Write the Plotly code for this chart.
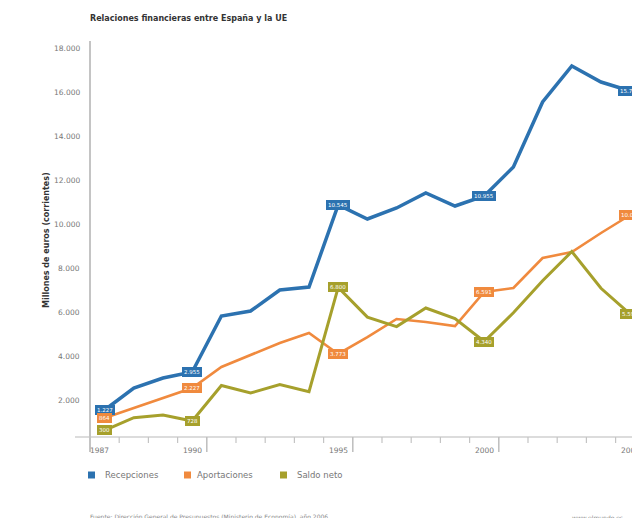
import plotly.graph_objects as go

years = [1987, 1988, 1989, 1990, 1991, 1992, 1993, 1994, 1995, 1996,
         1997, 1998, 1999, 2000, 2001, 2002, 2003, 2004, 2005]
recepciones = [1227, 2227, 2682, 2955, 5500, 5727, 6682, 6818, 10545, 9909,
               10409, 11091, 10500, 10955, 12273, 15227, 16864, 16136, 15727]
aportaciones = [864, 1318, 1773, 2227, 3182, 3727, 4273, 4727, 3773, 4545,
                5364, 5227, 5045, 6591, 6773, 8136, 8409, 9273, 10091]
saldo_neto = [300, 880, 1000, 728, 2340, 2000, 2380, 2060, 6800, 5450,
              5020, 5864, 5380, 4340, 5650, 7100, 8430, 6760, 5590]
series_names = ["Recepciones", "Aportaciones", "Saldo neto"]
labelled_years = [1987, 1990, 1995, 2000, 2005]
y_ticks = [2000, 4000, 6000, 8000, 10000, 12000, 14000, 16000, 18000]
x_labels = ["1987", "1990", "1995", "2000", "2005"]

colors = ["#2c72b0", "#f08a3e", "#a6a02c"]
widths = [3.5, 2.6, 3.0]
FONT = "DejaVu Sans"

W, H = 632, 518
L, R, T, B = 90, 0, 41, 81
pw, ph = W - L - R, H - T - B
x0, x1 = 1986.5, 1986.5 + pw / 29.2

def px(xpix):
    return (xpix - L) / pw

def py(ypix):
    return (H - B - ypix) / ph

def fmt(v):
    return f"{int(round(v)):,}".replace(",", ".")

fig = go.Figure()
all_series = [recepciones, aportaciones, saldo_neto]
for name, vals, c, w in zip(series_names, all_series, colors, widths):
    fig.add_trace(go.Scatter(x=years, y=vals, name=name, mode="lines",
                             line=dict(color=c, width=w), showlegend=False))

annotations = []
shapes = []

# value pills
for vals, c in zip(all_series, colors):
    for yr in labelled_years:
        v = vals[years.index(yr)]
        annotations.append(dict(x=yr, y=v, xref="x", yref="y", text=fmt(v),
                                showarrow=False, font=dict(family=FONT, size=5.5, color="white"),
                                bgcolor=c, bordercolor=c, borderpad=1, borderwidth=1))

# y tick labels
for v in y_ticks:
    annotations.append(dict(x=px(82), y=v, xref="paper", yref="y", text=fmt(v),
                            xanchor="right", yanchor="middle", yshift=-7, showarrow=False,
                            font=dict(family=FONT, size=7.5, color="#777")))

# x labels
annotations.append(dict(x=px(88), y=py(451), xref="paper", yref="paper", text=x_labels[0],
                        xanchor="left", yanchor="middle", showarrow=False,
                        font=dict(family=FONT, size=7.5, color="#777")))
for lbl, yr in zip(x_labels[1:], [1990.5, 1995.5, 2000.5, 2005.5]):
    xp = L + (yr - x0) / (x1 - x0) * pw
    annotations.append(dict(x=px(xp - 3), y=py(451), xref="paper", yref="paper", text=lbl,
                            xanchor="right", yanchor="middle", showarrow=False,
                            font=dict(family=FONT, size=7.5, color="#777")))
    shapes.append(dict(type="line", xref="x", yref="paper", x0=yr, x1=yr,
                       y0=py(437), y1=py(452), line=dict(color="#bdbdbd", width=1.5)))

# minor ticks
for k in range(1, 19):
    yr = 1986.5 + k
    if yr in (1990.5, 1995.5, 2000.5):
        continue
    shapes.append(dict(type="line", xref="x", yref="paper", x0=yr, x1=yr,
                       y0=py(437), y1=py(443), line=dict(color="#c4c4c4", width=1.2)))

# axis lines
shapes.append(dict(type="line", xref="paper", yref="paper", x0=px(75), x1=1.2,
                   y0=0, y1=0, line=dict(color="#dcdcdc", width=2), layer="below"))
shapes.append(dict(type="line", xref="paper", yref="paper", x0=0, x1=0,
                   y0=py(452), y1=1, line=dict(color="#c4c4c4", width=2)))

# title & y title
annotations.append(dict(x=px(88), y=py(19), xref="paper", yref="paper",
                        text="<b>Relaciones financieras entre España y la UE</b>",
                        xanchor="left", yanchor="middle", showarrow=False,
                        font=dict(family=FONT, size=8, color="#333")))
annotations.append(dict(x=px(46), y=py(240), xref="paper", yref="paper",
                        text="<b>Millones de euros (corrientes)</b>", textangle=-90,
                        xanchor="center", yanchor="middle", showarrow=False,
                        font=dict(family=FONT, size=8, color="#333")))

# legend (squares + text)
for name, c, sx, tx in zip(series_names, colors, [88, 184, 280], [103, 195, 295]):
    shapes.append(dict(type="rect", xref="paper", yref="paper", x0=px(sx), x1=px(sx + 7),
                       y0=py(478.5), y1=py(471.5), fillcolor=c, line=dict(width=0)))
    annotations.append(dict(x=px(tx), y=py(475), xref="paper", yref="paper", text=name,
                            xanchor="left", yanchor="middle", showarrow=False,
                            font=dict(family=FONT, size=8.5, color="#777")))

# footer
annotations.append(dict(x=px(88), y=py(517), xref="paper", yref="paper",
                        text="Fuente: Dirección General de Presupuestos (Ministerio de Economía), año 2006",
                        xanchor="left", yanchor="middle", showarrow=False,
                        font=dict(family=FONT, size=6, color="#888")))
annotations.append(dict(x=px(570), y=py(517), xref="paper", yref="paper",
                        text="www.elmundo.es",
                        xanchor="left", yanchor="middle", showarrow=False,
                        font=dict(family=FONT, size=6, color="#888")))

fig.update_layout(
    width=W, height=H, margin=dict(l=L, r=R, t=T, b=B),
    paper_bgcolor="white", plot_bgcolor="white",
    showlegend=False, separators=",.",
    xaxis=dict(range=[x0, x1], showgrid=False, zeroline=False, showticklabels=False,
               ticks="", showline=False, fixedrange=True),
    yaxis=dict(range=[0, 18000], showgrid=False, zeroline=False, showticklabels=False,
               ticks="", showline=False, fixedrange=True),
    annotations=annotations, shapes=shapes,
)
fig.write_html("out.html", config={"displayModeBar": False},
               post_script="document.body.style.margin='0';document.body.style.overflow='hidden';")
